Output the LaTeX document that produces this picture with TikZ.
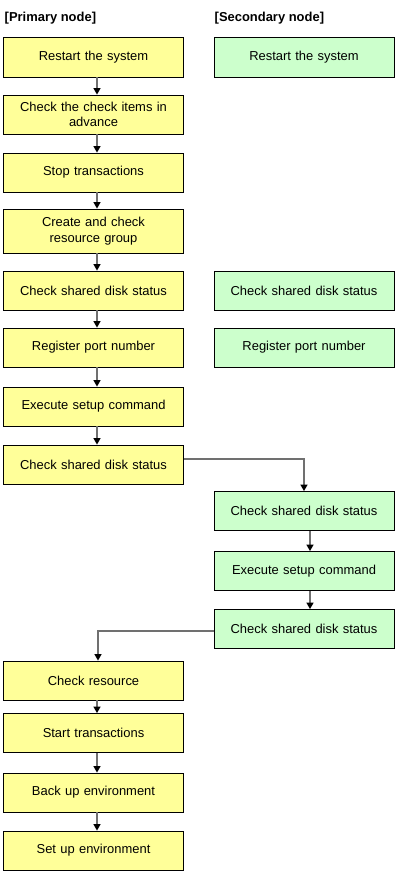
\documentclass[tikz,border=0pt]{standalone}
\usepackage{fontspec}
\setmainfont{Liberation Sans}
\usetikzlibrary{arrows.meta,positioning}

\definecolor{primfill}{HTML}{FFFF99}
\definecolor{secfill}{HTML}{CCFFCC}
\definecolor{flowgray}{HTML}{707070}

\tikzset{
  stepbox/.style={draw=black,line width=0.8bp,minimum width=180bp,minimum height=39bp,
    text width=172bp,align=center,inner sep=0pt,font=\fontsize{13}{15.5}\selectfont},
  prim/.style={stepbox,fill=primfill},
  secd/.style={stepbox,fill=secfill},
  head/.style={anchor=west,inner sep=0pt,font=\fontsize{13}{15}\selectfont\bfseries},
  flow/.style={draw=flowgray,line width=1.3bp,-{Triangle[width=7bp,length=6.5bp,color=black]}},
}

\begin{document}
\begin{tikzpicture}[x=1bp,y=-1bp]
	\useasboundingbox (0,0) rectangle (400,881);

	\node[head] (hp) at (4.5,18) {[Primary node]};
	\node[head] (hs) at (214.5,18) {[Secondary node]};

	% primary node
	\node[prim,minimum height=40bp] (p1) at (93.5,57) {Restart the system};
	\node[prim] (p2) at (93.5,114.5) {Check the check items in\\advance};
	\node[prim] (p3) at (93.5,172.5) {Stop transactions};
	\node[prim,minimum height=44bp] (p4) at (93.5,231) {Create and check\\resource group};
	\node[prim] (p5) at (93.5,290.5) {Check shared disk status};
	\node[prim] (p6) at (93.5,347.5) {Register port number};
	\node[prim] (p7) at (93.5,406.5) {Execute setup command};
	\node[prim] (p8) at (93.5,464.5) {Check shared disk status};
	\node[prim] (p9) at (93.5,680.5) {Check resource};
	\node[prim] (p10) at (93.5,733) {Start transactions};
	\node[prim] (p11) at (93.5,792.5) {Back up environment};
	\node[prim] (p12) at (93.5,850.5) {Set up environment};

	% secondary node
	\node[secd,minimum height=40bp] (s1) at (304,57) {Restart the system};
	\node[secd] (s2) at (304,290.5) {Check shared disk status};
	\node[secd] (s3) at (304,347.5) {Register port number};
	\node[secd] (s4) at (304,511) {Check shared disk status};
	\node[secd] (s5) at (304,571) {Execute setup command};
	\node[secd] (s6) at (304,629) {Check shared disk status};

	\foreach \a/\b in {p1/p2,p2/p3,p3/p4,p4/p5,p5/p6,p6/p7,p7/p8,p9/p10,p10/p11,p11/p12}
		\draw[flow] ([xshift=3.5bp]\a.south) -- ([xshift=3.5bp]\b.north);
	\foreach \a/\b in {s4/s5,s5/s6}
		\draw[flow] ([xshift=6bp]\a.south) -- ([xshift=6bp]\b.north);

	\draw[flow] ([yshift=5.5bp]p8.east) -| (s4.north);
	\draw[flow] ([yshift=-2bp]s6.west) -| ([xshift=4.5bp]p9.north);
\end{tikzpicture}
\end{document}
